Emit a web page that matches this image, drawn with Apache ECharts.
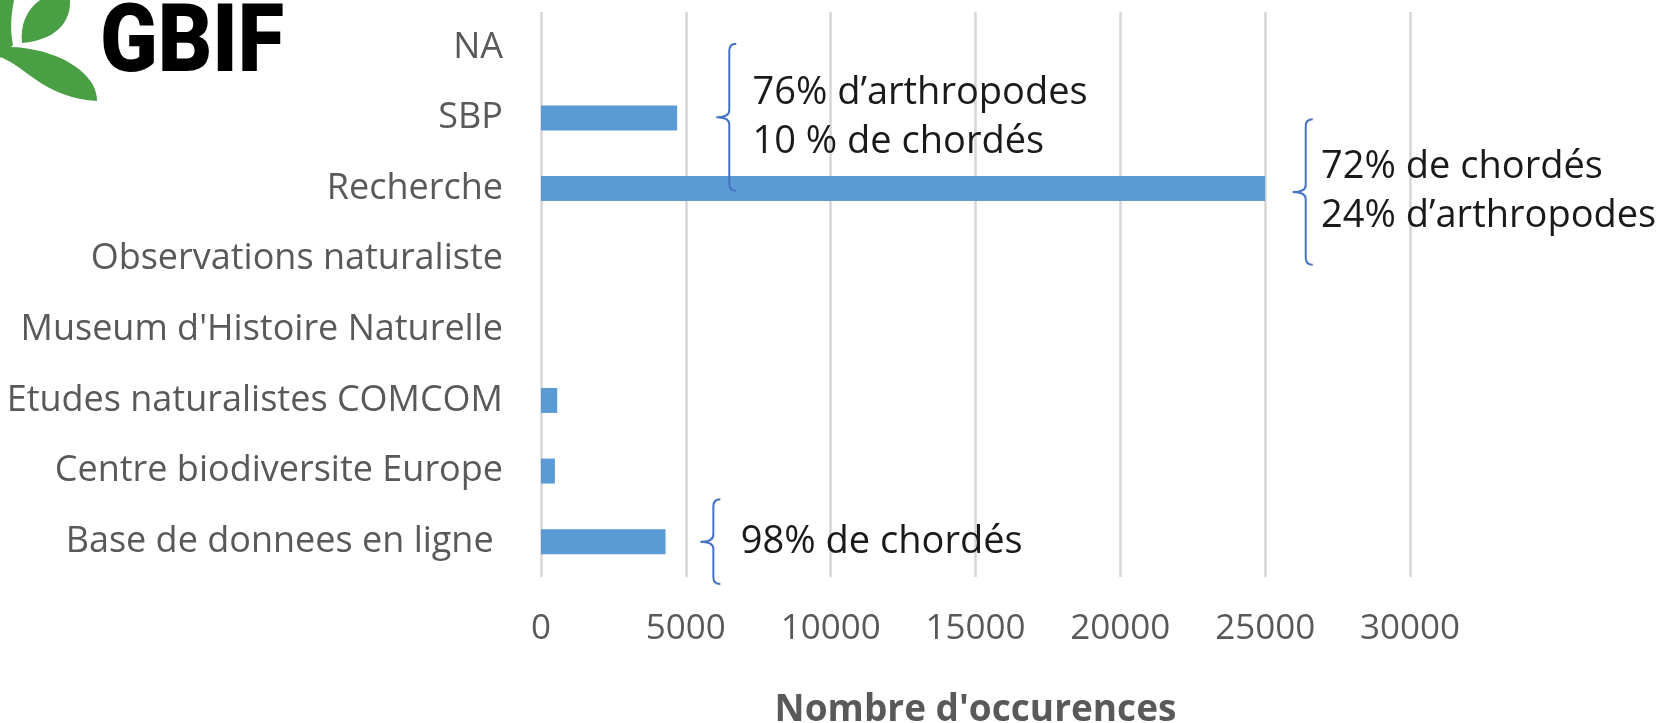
<!DOCTYPE html>
<html>
<head>
<meta charset="utf-8">
<script src="https://cdn.jsdelivr.net/npm/echarts@6/dist/echarts.min.js"></script>
<style>
  html, body { margin: 0; padding: 0; background: #ffffff; }
  #chart { width: 1668px; height: 723px; }
</style>
</head>
<body>
<div id="chart"></div>
<script>
// Occurrence counts per data source (bottom to top, as on the axis)
const categories = [
  'Base de donnees en ligne ',
  'Centre biodiversite Europe',
  'Etudes naturalistes COMCOM',
  "Museum d'Histoire Naturelle",
  'Observations naturaliste',
  'Recherche',
  'SBP',
  'NA'
];
const occurrences = [4300, 480, 560, 0, 0, 25000, 4700, 0];

// Value axis ticks
const axisMin = 0;
const axisMax = 30000;
const axisStep = 5000;
const axisTitle = "Nombre d'occurences";

// Taxonomic breakdown notes, each bracketing one source
const noteSources = ['SBP', 'Recherche', 'Base de donnees en ligne '];
const noteTexts = [
  ['76% d\u2019arthropodes', '10 % de chordés'],
  ['72% de chordés', '24% d\u2019arthropodes'],
  ['98% de chordés']
];
// where each bracket sits along the value axis, and where its text starts
const noteBraceAt = [6500, 26400, 5950];
const noteTextAt = [7300, 26930, 6900];
// half-height of each bracket, in category bands
const noteSpan = [1.04, 1.03, 0.6];
// vertical nudge of each bracket and its text, in category bands
const noteShift = [-0.01, 0.05, 0.0];

const FONT = '"Open Sans", "Noto Sans", sans-serif';
const GREY = '#595959';

// Generic shape drawn from a list of canvas path commands
const CmdPath = echarts.graphic.extendShape({
  shape: { cmds: [] },
  buildPath: function (ctx, shape) {
    shape.cmds.forEach(function (c) {
      ctx[c[0]].apply(ctx, c.slice(1));
    });
  }
});
echarts.graphic.registerShape('cmdPath', CmdPath);

const chart = echarts.init(document.getElementById('chart'), null, { renderer: 'canvas' });

chart.setOption({
  backgroundColor: '#ffffff',
  animation: false,
  grid: { left: 541, right: 258, top: 12, bottom: 146, outerBoundsMode: 'none', containLabel: false },
  xAxis: {
    type: 'value',
    min: axisMin,
    max: axisMax,
    interval: axisStep,
    name: axisTitle,
    nameLocation: 'middle',
    nameGap: 133,
    nameTextStyle: {
      fontFamily: FONT, fontSize: 37, fontWeight: 'bold', color: GREY,
      verticalAlign: 'middle'
    },
    axisLine: { show: false },
    axisTick: { show: false },
    axisLabel: {
      fontFamily: FONT, fontSize: 35, color: GREY,
      margin: 52, verticalAlign: 'middle',
      formatter: function (v) { return String(v); }
    },
    splitLine: { show: true, lineStyle: { color: '#d6d6d6', width: 2.5 } }
  },
  yAxis: {
    type: 'category',
    data: categories,
    axisLine: { show: false },
    axisTick: { show: false },
    axisLabel: {
      fontFamily: FONT, fontSize: 36, color: GREY, margin: 38,
      verticalAlign: 'middle', padding: [6, 0, 0, 0]
    }
  },
  series: [{
    type: 'bar',
    data: occurrences,
    barWidth: 25,
    itemStyle: { color: '#5b9bd5' }
  }]
});

// Left curly bracket centred on yMid, tip pointing left
function braceCmds(x, yTop, yMid, yBot) {
  const h = 7, w = 13;
  return [
    ['moveTo', x + h, yTop],
    ['quadraticCurveTo', x, yTop, x, yTop + h],
    ['lineTo', x, yMid - h],
    ['quadraticCurveTo', x, yMid, x - w, yMid],
    ['quadraticCurveTo', x, yMid, x, yMid + h],
    ['lineTo', x, yBot - h],
    ['quadraticCurveTo', x, yBot, x + h, yBot]
  ];
}

const graphics = [];

// GBIF logo: leaves and wordmark
const leafGreen = '#4a9f45';
graphics.push(
  { type: 'cmdPath', z: 100, shape: { cmds: [
      ['moveTo', 0, 0], ['lineTo', 14, 0],
      ['bezierCurveTo', 11, 15, 10, 30, 13, 45],
      ['lineTo', 0, 58], ['closePath']
    ] }, style: { fill: leafGreen } },
  { type: 'cmdPath', z: 100, shape: { cmds: [
      ['moveTo', 22, 43],
      ['bezierCurveTo', 20, 26, 26, 10, 40, 0],
      ['lineTo', 70, 0],
      ['bezierCurveTo', 71, 22, 56, 40, 22, 43],
      ['closePath']
    ] }, style: { fill: leafGreen } },
  { type: 'cmdPath', z: 100, shape: { cmds: [
      ['moveTo', 11, 47],
      ['bezierCurveTo', 45, 48, 80, 62, 93, 85],
      ['bezierCurveTo', 96, 91, 97, 96, 97, 101],
      ['bezierCurveTo', 75, 100, 52, 92, 32, 77],
      ['bezierCurveTo', 20, 68, 9, 60, 0, 57],
      ['lineTo', 0, 52], ['closePath']
    ] }, style: { fill: leafGreen } },
  {
    type: 'text', z: 100, x: 100, y: 0, scaleX: 0.9,
    style: { text: 'GBIF', fontFamily: 'Roboto, "DejaVu Sans", sans-serif', fontWeight: 900, fontSize: 94, fill: '#000000', verticalAlign: 'top' }
  }
);

const c0 = chart.convertToPixel({ yAxisIndex: 0 }, categories[0]);
const c1 = chart.convertToPixel({ yAxisIndex: 0 }, categories[1]);
const band = Math.abs(c1 - c0);

noteSources.forEach(function (src, i) {
  const yMid = chart.convertToPixel({ yAxisIndex: 0 }, src) + noteShift[i] * band;
  const half = noteSpan[i] * band;
  const bx = chart.convertToPixel({ xAxisIndex: 0 }, noteBraceAt[i]);
  const tx = chart.convertToPixel({ xAxisIndex: 0 }, noteTextAt[i]);
  graphics.push({
    type: 'cmdPath', z: 100,
    shape: { cmds: braceCmds(bx, yMid - half, yMid, yMid + half) },
    style: { fill: null, stroke: '#4472c4', lineWidth: 2 }
  });
  graphics.push({
    type: 'text', z: 100, x: tx, y: yMid,
    style: {
      text: noteTexts[i].join('\n'),
      fontFamily: FONT, fontSize: 38, lineHeight: 49,
      fill: '#1a1a1a', verticalAlign: 'middle', align: 'left'
    }
  });
});

chart.setOption({ graphic: graphics });
</script>
</body>
</html>
